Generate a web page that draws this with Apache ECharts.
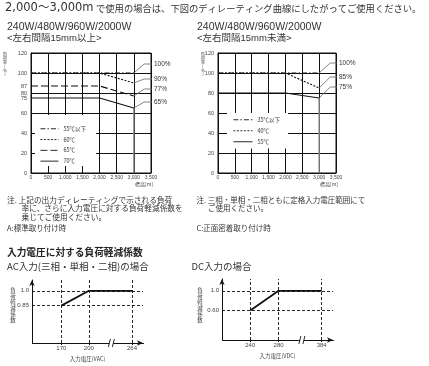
<!DOCTYPE html>
<html><head><meta charset="utf-8">
<script src="https://cdn.jsdelivr.net/npm/echarts@6/dist/echarts.min.js"></script>
<style>html,body{margin:0;padding:0;background:#fff}#c{width:429px;height:366px}</style>
</head><body><div id="c"></div>
<script>
// ---- data ----
const altX = [0, 2000, 3000];
const namesA = ['55℃以下', '60℃', '65℃', '70℃'];
const valsA = [[100, 100, 100], [100, 100, 90], [87, 87, 77], [75, 75, 65]];
const endTextA = ['100%', '90%', '77%', '65%'];
const namesC = ['35℃以下', '40℃', '55℃'];
const valsC = [[100, 100, 100], [100, 100, 85], [80, 80, 75]];
const endTextC = ['100%', '85%', '75%'];
const extraLoadTicksA = [75, 87];
const acX = [170, 200, 264];
const acY = [0.85, 1.0, 1.0];
const acYTicks = [0.85, 1.0];
const acYText = ['0.85', '1.0'];
const dcX = [240, 280, 384];
const dcY = [0.60, 1.0, 1.0];
const dcYTicks = [0.60, 1.0];
const dcYText = ['0.60', '1.0'];

// ---- layout / style ----
const JP = '"Noto Sans CJK JP", sans-serif';
const LAT = '"Liberation Sans", "Noto Sans CJK JP", sans-serif';
const INK = '#111';
const TXT = '#333';
const dashDot = [5, 2, 1.5, 2], dotted = [2, 1.5], longDash = [7, 3];
const stylesA = [dashDot, dotted, longDash, 'solid'];
const stylesC = [dashDot, dotted, 'solid'];
const leaderYA = [109, 94, 84, 71];
const leaderYC = [110, 96, 86];

const chart = echarts.init(document.getElementById('c'), null, {renderer: 'canvas'});
const fmtComma = v => v.toLocaleString('en-US');

function topX(gi) {
  return {type: 'value', gridIndex: gi, min: 0, max: 3500, interval: 500,
    axisLine: {show: true, onZero: false, lineStyle: {color: INK, width: 1}},
    axisTick: {show: false},
    axisLabel: {fontSize: 5, color: '#444', margin: 2.5, fontFamily: LAT, formatter: fmtComma},
    splitLine: {show: true, lineStyle: {color: INK, width: 1}},
    name: '標高[m]', nameLocation: 'end', nameGap: 2,
    nameTextStyle: {fontSize: 5, color: '#444', fontFamily: JP, align: 'right', verticalAlign: 'top', padding: [9, 0, 0, 0]}};
}
function topY(gi) {
  return {type: 'value', gridIndex: gi, min: 0, max: 120, interval: 20,
    axisLine: {show: true, lineStyle: {color: INK, width: 1}},
    axisTick: {show: false},
    axisLabel: {fontSize: 5.5, color: '#444', margin: 4, fontFamily: LAT},
    splitLine: {show: true, lineStyle: {color: INK, width: 1}}};
}
function seriesLine(name, vals, xi, yi, type) {
  return {type: 'line', name, xAxisIndex: xi, yAxisIndex: yi, symbol: 'none', animation: false, z: 4,
    data: altX.map((x, i) => [x, vals[i]]),
    lineStyle: {color: INK, width: 1.1, type}, itemStyle: {color: INK}};
}
function leader(v, ly, txt, xi, yi, x1, x2) {
  return {type: 'line', xAxisIndex: xi, yAxisIndex: yi, symbol: 'none', animation: false, clip: false, silent: true, z: 3,
    data: [[3000, v], [x1, ly], [x2, ly]],
    lineStyle: {color: '#666', width: 0.8},
    endLabel: {show: true, formatter: txt, fontSize: 6.5, color: TXT, fontFamily: LAT, distance: 2}};
}
function drop(vals, xi, yi) {
  const m = Math.min(...vals.map(v => v[v.length - 1]));
  return {type: 'line', xAxisIndex: xi, yAxisIndex: yi, symbol: 'none', animation: false, silent: true, z: 3,
    data: [[3000, m], [3000, 0]], lineStyle: {color: '#888', width: 1.4}};
}
function bottomX(gi, min, max, brk, ticks, name) {
  return {type: 'value', gridIndex: gi, min, max,
    breaks: [brk], breakArea: {show: false},
    axisLine: {show: true, onZero: false, lineStyle: {color: INK, width: 1}, symbol: ['none', 'arrow'], symbolSize: [4, 6]},
    axisTick: {show: true, customValues: ticks, length: 2, lineStyle: {color: INK}},
    axisLabel: {customValues: ticks, fontSize: 6, color: '#444', margin: 2, fontFamily: LAT},
    splitLine: {show: false},
    name, nameLocation: 'middle', nameGap: 13,
    nameTextStyle: {fontSize: 5.5, color: '#444', fontFamily: JP}};
}
function bottomY(gi, min, max, ticks, texts) {
  return {type: 'value', gridIndex: gi, min, max,
    axisLine: {show: true, onZero: false, lineStyle: {color: INK, width: 1}, symbol: ['none', 'arrow'], symbolSize: [4, 6]},
    axisTick: {show: false, customValues: ticks},
    axisLabel: {customValues: ticks, fontSize: 6, color: '#444', margin: 3, fontFamily: LAT,
      formatter: v => texts[ticks.findIndex(t => Math.abs(t - v) < 1e-6)] || ''},
    splitLine: {show: false}};
}
function bottomSeries(xs, ys, xi, yi, yTicks) {
  return {type: 'line', xAxisIndex: xi, yAxisIndex: yi, symbol: 'none', animation: false, z: 4,
    data: xs.map((x, i) => [x, ys[i]]),
    lineStyle: {color: INK, width: 1.8},
    markLine: {symbol: 'none', silent: true, animation: false, label: {show: false},
      lineStyle: {color: INK, type: [3, 2], width: 0.9},
      data: [...yTicks.map(v => ({yAxis: v})), ...xs.map(v => ({xAxis: v}))]}};
}
function txt(x, y, text, size, family, extra) {
  return Object.assign({type: 'text', x, y, silent: true,
    style: Object.assign({text, fontSize: size, fontFamily: family, fill: TXT, verticalAlign: 'middle'}, extra || {})});
}
function vtxt(x, y, chars, size, lh) {
  return {type: 'text', x, y, silent: true,
    style: {text: chars.join('\n'), fontSize: size, fontFamily: JP, fill: '#444', align: 'center', verticalAlign: 'top', lineHeight: lh}};
}

const series = [];
namesA.forEach((n, i) => series.push(seriesLine(n, valsA[i], 0, 0, stylesA[i])));
namesC.forEach((n, i) => series.push(seriesLine(n, valsC[i], 1, 2, stylesC[i])));
valsA.forEach((v, i) => series.push(leader(v[2], leaderYA[i], endTextA[i], 0, 0, 3300, 3700)));
valsC.forEach((v, i) => series.push(leader(v[2], leaderYC[i], endTextC[i], 1, 2, 3330, 3770)));
series.push(drop(valsA, 0, 0));
series.push(drop(valsC, 1, 2));
series.push(bottomSeries(acX, acY, 2, 3, acYTicks));
series.push(bottomSeries(dcX, dcY, 3, 4, dcYTicks));

const legendBase = {orient: 'vertical', itemWidth: 18, itemHeight: 6, backgroundColor: '#fff',
  textStyle: {fontSize: 5.5, color: TXT, fontFamily: JP}, itemStyle: {opacity: 0},
  lineStyle: {width: 0.9, color: INK}, selectedMode: false};

const option = {
  animation: false,
  backgroundColor: '#fff',
  grid: [
    {left: 31, top: 53, width: 120, height: 120, show: true, borderColor: INK, borderWidth: 1},
    {left: 218, top: 53, width: 118, height: 120, show: true, borderColor: INK, borderWidth: 1},
    {left: 32, top: 280, width: 111, height: 63},
    {left: 222, top: 279, width: 111, height: 61}
  ],
  xAxis: [topX(0), topX(1),
    bottomX(2, 138, 276, {start: 223, end: 243, gap: 3}, acX, '入力電圧(VAC)'),
    bottomX(3, 200, 400, {start: 312, end: 357, gap: 2}, dcX, '入力電圧(VDC)')],
  yAxis: [topY(0),
    {type: 'value', gridIndex: 0, position: 'left', min: 0, max: 120,
      axisLine: {show: false}, axisTick: {show: false}, splitLine: {show: false},
      axisLabel: {customValues: extraLoadTicksA, fontSize: 5.5, color: '#444', margin: 4, fontFamily: LAT}},
    topY(1),
    bottomY(2, 0.47, 1.11, acYTicks, acYText),
    bottomY(3, 0, 1.24, dcYTicks, dcYText)],
  legend: [
    Object.assign({}, legendBase, {data: namesA, left: 35, top: 115, itemGap: 5.3, padding: [11, 10, 2, 5]}),
    Object.assign({}, legendBase, {data: namesC, left: 227, top: 113, itemGap: 5.5, padding: [4, 8, 4, 6], itemWidth: 19})
  ],
  series,
  graphic: [
    txt(5, 8, '2,000～3,000m', 11.5, '"DejaVu Sans", "Noto Sans CJK JP", sans-serif'),
    txt(96, 8, 'で使用の場合は、下図のディレーティング曲線にしたがってご使用ください。', 9.3, JP),
    txt(7, 27, '240W/480W/960W/2000W', 10.5, LAT),
    txt(7, 38.5, '<左右間隔15mm以上>', 9.5, LAT),
    txt(197, 27, '240W/480W/960W/2000W', 10.5, LAT),
    txt(197, 38.5, '<左右間隔15mm未満>', 9.5, LAT),
    vtxt(5, 53, ['負', '荷', '率', '[', '%', ']'], 4, 3.8),
    vtxt(203, 53, ['負', '荷', '率', '[', '%', ']'], 4, 3.8),
    txt(7, 200, '注. 上記の出力ディレーティングで示される負荷', 7.7, JP),
    txt(21.5, 208.5, '率に、さらに入力電圧に対する負荷軽減係数を', 7.7, JP),
    txt(21.5, 217, '乗じてご使用ください。', 7.7, JP),
    txt(7, 228.5, 'A:標準取り付け時', 7.5, JP),
    txt(196.5, 200, '注. 三相・単相・二相ともに定格入力電圧範囲にて', 7.5, JP),
    txt(208, 208.5, 'ご使用ください。', 7.5, JP),
    txt(196.5, 228.5, 'C:正面密着取り付け時', 7.5, JP),
    txt(7, 252, '入力電圧に対する負荷軽減係数', 9.7, JP, {fontWeight: 'bold', fill: '#222'}),
    txt(7, 266, 'AC入力(三相・単相・二相)の場合', 9.5, JP),
    txt(191.5, 266, 'DC入力の場合', 9.5, JP),
    vtxt(13, 287, ['負', '荷', '軽', '減', '係', '数'], 5.5, 5.9),
    vtxt(200, 287, ['負', '荷', '軽', '減', '係', '数'], 5.5, 5.9)
  ]
};
chart.setOption(option);

function breakMark(id, xi, yi, b1, b2, ymin) {
  const pa = chart.convertToPixel({xAxisIndex: xi, yAxisIndex: yi}, [b1, ymin]);
  const pb = chart.convertToPixel({xAxisIndex: xi, yAxisIndex: yi}, [b2, ymin]);
  if (!pa || !pb) return [];
  const cx = (pa[0] + pb[0]) / 2, cy = pa[1];
  return [
    {id: id + 'r', type: 'rect', silent: true, z: 100, shape: {x: cx - 2, y: cy - 3, width: 4, height: 6}, style: {fill: '#fff'}},
    {id: id + 'a', type: 'line', silent: true, z: 101, shape: {x1: cx - 3, y1: cy + 4, x2: cx - 1, y2: cy - 4}, style: {stroke: INK, lineWidth: 0.9}},
    {id: id + 'b', type: 'line', silent: true, z: 101, shape: {x1: cx + 1, y1: cy + 4, x2: cx + 3, y2: cy - 4}, style: {stroke: INK, lineWidth: 0.9}}
  ];
}
chart.setOption({graphic: [
  ...breakMark('bk1', 2, 3, 223, 243, 0.47),
  ...breakMark('bk2', 3, 4, 312, 357, 0)
]});
</script></body></html>
